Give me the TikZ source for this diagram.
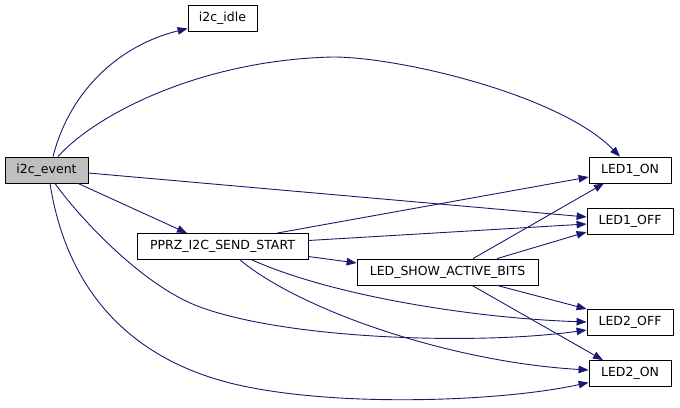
\documentclass[tikz,border=0pt]{standalone}
\usepackage{fontspec}
\setmainfont{DejaVu Sans}
\usepackage{xcolor}
\usetikzlibrary{arrows.meta,calc}
\definecolor{edgeblue}{HTML}{191970}
\definecolor{rootgray}{HTML}{BFBFBF}

\begin{document}
\begin{tikzpicture}[
  x=1pt,y=-1pt,
  fn/.style={draw,rectangle,minimum height=26pt,inner sep=0pt,line width=0.8pt,font=\fontsize{12.5}{15}\selectfont},
  edge/.style={-{Triangle[length=10pt,width=7.5pt]},edgeblue,line width=0.9pt}
]
\useasboundingbox (0,0) rectangle (680,407);
\node[fn,fill=rootgray,minimum width=83pt] (ev) at (46.5,170) {i2c\_event};
\node[fn,minimum width=69pt] (idle) at (222.5,18.5) {i2c\_idle};
\node[fn,minimum width=171pt] (start) at (222.5,246.5) {PPRZ\_I2C\_SEND\_START};
\node[fn,minimum width=181pt] (bits) at (447.5,272) {LED\_SHOW\_ACTIVE\_BITS};
\node[fn,minimum width=82pt] (oneon) at (630,170) {LED1\_ON};
\node[fn,minimum width=86pt] (oneoff) at (630,221) {LED1\_OFF};
\node[fn,minimum width=86pt] (twooff) at (630,322) {LED2\_OFF};
\node[fn,minimum width=82pt] (twoon) at (630,373.5) {LED2\_ON};
\draw[edge] ($(ev.north)+(6.5,0)$) .. controls (70,90) and (120,45) .. ($(idle.west)+(0,10)$);
\draw[edge] ($(ev.north)+(11.5,0)$) .. controls (95,115) and (200,60) .. (333,57) .. controls (400,57) and (560,95) .. ($(oneon.north)+(-10,0)$);
\draw[edge] ($(ev.east)+(0,3)$) -- ($(oneoff.west)+(0,-4)$);
\draw[edge] ($(ev.south)+(31.5,0)$) -- ($(start.north)+(-35.5,0)$);
\draw[edge] ($(ev.south)+(8.5,0)$) .. controls (75,212) and (140,285) .. (200,307) .. controls (290,340) and (480,345) .. ($(twooff.west)+(0,8)$);
\draw[edge] ($(ev.south)+(3.5,0)$) .. controls (65,280) and (120,355) .. (230,383) .. controls (330,408) and (500,402) .. ($(twoon.west)+(0,9)$);
\draw[edge] ($(start.north)+(54.5,0)$) -- ($(oneon.west)+(0,7)$);
\draw[edge] ($(start.east)+(0,-6)$) -- ($(oneoff.west)+(0,3)$);
\draw[edge] ($(start.east)+(0,10)$) -- ($(bits.west)+(0,-9)$);
\draw[edge] ($(start.south)+(29.5,0)$) .. controls (330,295) and (470,318) .. (twooff.west);
\draw[edge] ($(start.south)+(17.5,0)$) .. controls (300,310) and (450,362) .. ($(twoon.west)+(0,-3.5)$);
\draw[edge] ($(bits.north)+(25.5,0)$) -- ($(oneon.south)+(-26,0)$);
\draw[edge] ($(bits.north)+(49.5,0)$) -- ($(oneoff.west)+(0,11)$);
\draw[edge] ($(bits.south)+(49.5,0)$) -- ($(twooff.west)+(0,-13)$);
\draw[edge] ($(bits.south)+(24.5,0)$) -- ($(twoon.north)+(-27,0)$);
\end{tikzpicture}
\end{document}
